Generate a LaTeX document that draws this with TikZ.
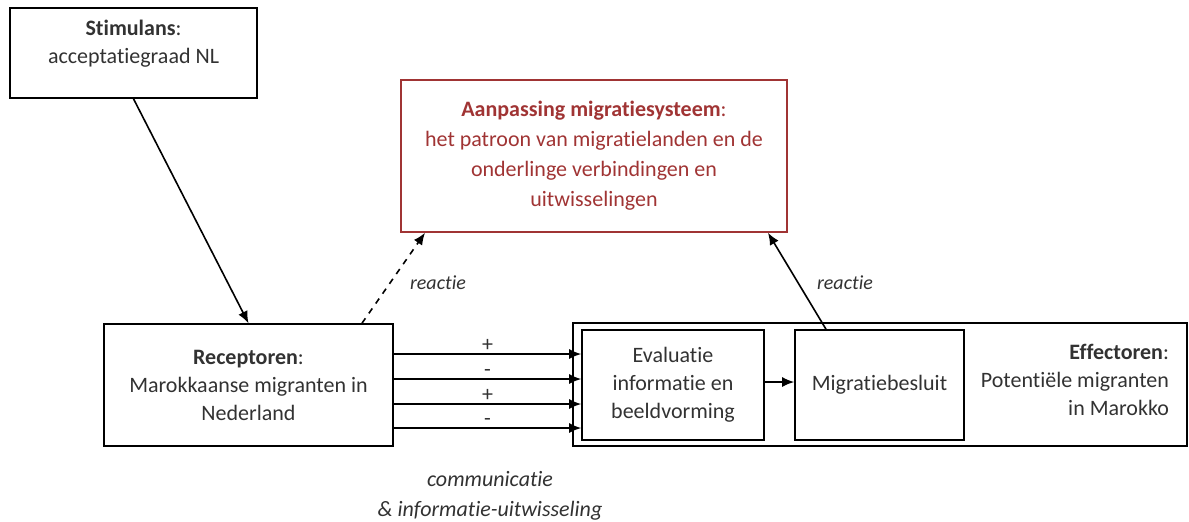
\documentclass[tikz,border=0pt]{standalone}
\usepackage{fontspec}
\setmainfont{Carlito}[Ligatures={NoCommon}]
\usetikzlibrary{arrows.meta}
\definecolor{rood}{RGB}{160,52,52}
\definecolor{tekst}{RGB}{50,50,50}
\tikzset{
    doos/.style={draw, thick, text=tekst, align=center, inner sep=0pt},
    pijl/.style={-{Latex[length=6pt,width=5pt]}, thick},
    lbl/.style={text=tekst, font=\itshape}
}
\begin{document}
\begin{tikzpicture}[x=0.5pt,y=-0.5pt,font=\fontsize{11}{14}\selectfont]
    \useasboundingbox (0,0) rectangle (1189,521);
    % boxes
    \node[doos, minimum width=123.5pt, minimum height=45pt, text depth=11pt] (stim) at (133.5,53)
        {\textbf{Stimulans}:\\acceptatiegraad NL};
    \node[doos, draw=rood, text=rood, minimum width=193pt, minimum height=76pt, font=\fontsize{11}{15}\selectfont] (sys) at (594,156)
        {\textbf{Aanpassing migratiesysteem}:\\het patroon van migratielanden en de\\onderlinge verbindingen en\\uitwisselingen};
    \node[doos, minimum width=144.5pt, minimum height=61pt] (rec) at (248.5,385)
        {\textbf{Receptoren}:\\Marokkaanse migranten in\\Nederland};
    \node[doos, minimum width=307pt, minimum height=61.5pt] (eff) at (880,384.5) {};
    \node[doos, minimum width=91pt, minimum height=55pt] (eval) at (673,385)
        {Evaluatie\\informatie en\\beeldvorming};
    \node[doos, minimum width=84.5pt, minimum height=55pt] (mig) at (879.5,385)
        {Migratiebesluit};
    \node[text=tekst, align=right, anchor=east] (efftxt) at (1176,380)
        {\textbf{Effectoren}:\\Potentiële migranten\\in Marokko};
    % connectors
    \draw[pijl] (stim.south) -- (rec.north);
    \foreach \y/\s in {354/+,379/-,404/+,428/-}
        \draw[pijl] (rec.east |- 0,\y) -- node[above, text=tekst, inner sep=1pt] {\s} (eval.west |- 0,\y);
    \draw[pijl] (eval.east |- 0,382) -- (mig.west |- 0,382);
    \draw[pijl, dashed] (rec.north -| 362,0) -- (sys.south -| 425,0);
    \draw[pijl] (mig.north -| 826,0) -- (sys.south -| 768,0);
    \node[lbl, anchor=west] (re1) at (403,283) {reactie};
    \node[lbl, anchor=west] (re2) at (810,283) {reactie};
    \node[lbl, align=center, font=\fontsize{11}{15}\selectfont\itshape] (comm) at (490,496)
        {communicatie\\\& informatie-uitwisseling};
\end{tikzpicture}
\end{document}
